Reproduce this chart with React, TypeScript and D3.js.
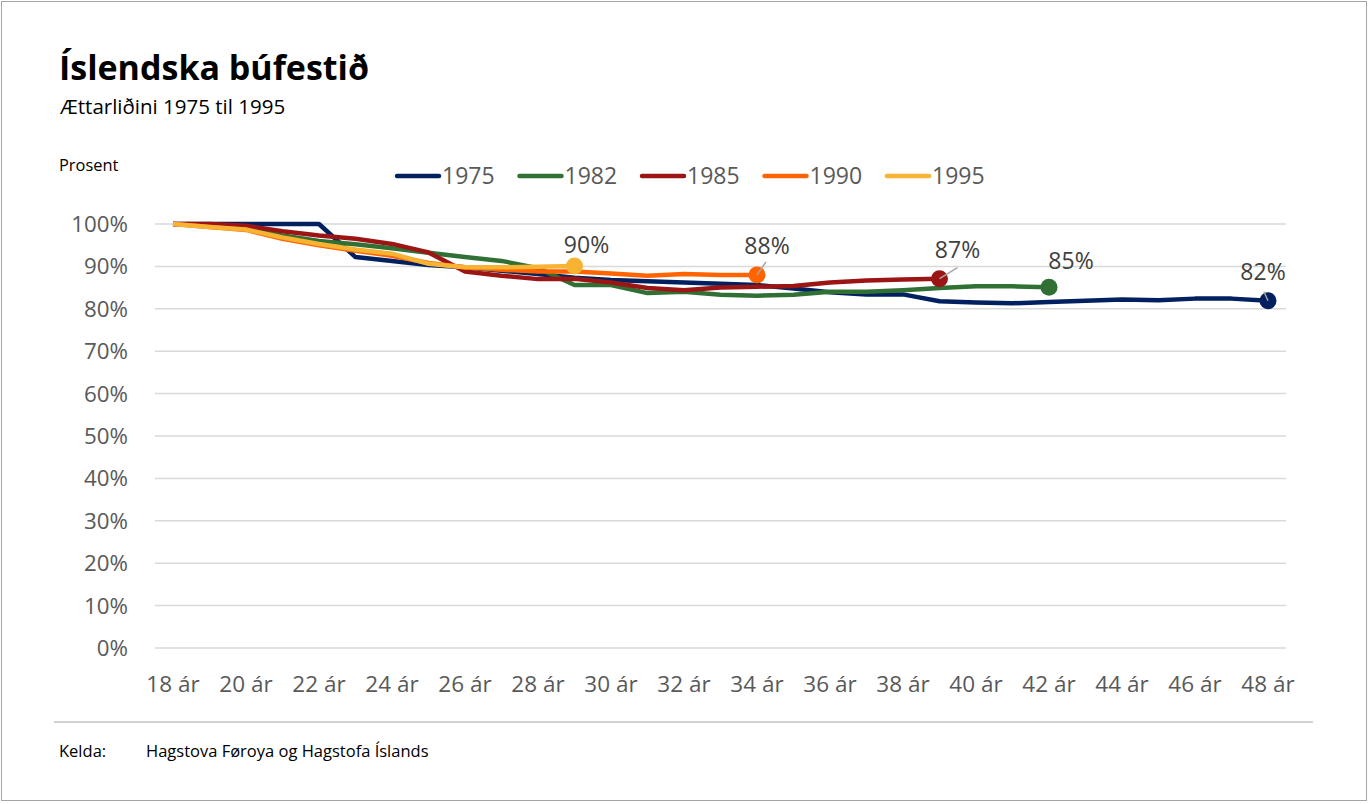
import { useEffect, useRef } from "react";
import * as d3 from "d3";

const ages = d3.range(18, 49);
const xTickAges = d3.range(18, 49, 2);
const yTicks = [0, 10, 20, 30, 40, 50, 60, 70, 80, 90, 100];

const cohort1975 = [100, 100, 100, 100, 100, 92.2, 91.3, 90.3, 89.8, 89.0, 88.2, 87.3, 86.8, 86.5, 86.2, 85.9, 85.6, 84.8, 83.9, 83.4, 83.4, 81.8, 81.5, 81.3, 81.6, 81.9, 82.2, 82.0, 82.4, 82.4, 81.9];
const cohort1982 = [100, 99.5, 98.8, 97.3, 96.0, 95.2, 94.3, 93.2, 92.2, 91.3, 89.6, 85.6, 85.6, 83.7, 84.0, 83.3, 83.1, 83.3, 84.0, 84.0, 84.4, 84.9, 85.3, 85.3, 85.1];
const cohort1985 = [100, 100, 99.6, 98.3, 97.3, 96.5, 95.3, 93.3, 88.8, 87.8, 87.0, 87.1, 86.2, 84.9, 84.4, 85.0, 85.2, 85.4, 86.2, 86.7, 86.9, 87.1];
const cohort1990 = [100, 99.3, 98.6, 96.5, 95.0, 93.7, 92.5, 90.8, 89.8, 89.2, 88.8, 88.8, 88.3, 87.8, 88.2, 88.0, 88.0];
const cohort1995 = [100, 99.3, 98.7, 96.8, 95.3, 94.0, 93.0, 90.6, 89.8, 89.8, 89.9, 90.1];

const endLabels = ["82%", "85%", "87%", "88%", "90%"];

interface ISeries {
  name: string;
  color: string;
  values: number[];
  label: string;
  // label offset from end marker, and leader line end (null = no leader)
  dx: number;
  dy: number;
  leader: [number, number] | null;
}

const series: ISeries[] = [
  { name: "1975", color: "#002060", values: cohort1975, label: endLabels[0], dx: -5, dy: -21, leader: [-4, -9] },
  { name: "1982", color: "#317035", values: cohort1982, label: endLabels[1], dx: 22, dy: -18, leader: null },
  { name: "1985", color: "#9c1515", values: cohort1985, label: endLabels[2], dx: 18, dy: -21, leader: [18, -11] },
  { name: "1990", color: "#ff6400", values: cohort1990, label: endLabels[3], dx: 10, dy: -21, leader: [9, -13] },
  { name: "1995", color: "#f8b333", values: cohort1995, label: endLabels[4], dx: 12, dy: -13, leader: null },
];

const font = "'Open Sans', 'Noto Sans', sans-serif";

function App() {
  const ref = useRef<SVGSVGElement>(null);

  useEffect(() => {
    const W = 1370;
    const H = 804;
    const svg = d3.select(ref.current);
    svg.selectAll("*").remove();
    svg.attr("width", W).attr("height", H).style("font-family", font);

    svg
      .append("rect")
      .attr("x", 1.5)
      .attr("y", 1.5)
      .attr("width", W - 5)
      .attr("height", H - 5)
      .attr("fill", "#fff")
      .attr("stroke", "#a6a6a6");

    svg
      .append("text")
      .attr("x", 59)
      .attr("y", 80)
      .attr("font-size", 34)
      .attr("font-weight", 700)
      .attr("fill", "#000")
      .text("Íslendska búfestið");
    svg
      .append("text")
      .attr("x", 60)
      .attr("y", 114)
      .attr("font-size", 20.5)
      .attr("fill", "#000")
      .text("Ættarliðini 1975 til 1995");
    svg
      .append("text")
      .attr("x", 59)
      .attr("y", 171)
      .attr("font-size", 16.4)
      .attr("fill", "#000")
      .text("Prosent");

    const xScale = d3.scaleLinear().domain([18, 48]).range([173, 1268]);
    const yScale = d3.scaleLinear().domain([0, 100]).range([648, 224]);

    // gridlines
    svg
      .append("g")
      .selectAll("line")
      .data(yTicks)
      .join("line")
      .attr("x1", 155)
      .attr("x2", 1286)
      .attr("y1", (d) => yScale(d))
      .attr("y2", (d) => yScale(d))
      .attr("stroke", "#d9d9d9")
      .attr("stroke-width", 1.5);

    svg
      .append("g")
      .selectAll("text")
      .data(yTicks)
      .join("text")
      .attr("x", 128)
      .attr("y", (d) => yScale(d) + 8)
      .attr("text-anchor", "end")
      .attr("font-size", 22.3)
      .attr("fill", "#595959")
      .text((d) => `${d}%`);

    svg
      .append("g")
      .selectAll("text")
      .data(xTickAges)
      .join("text")
      .attr("x", (d) => xScale(d))
      .attr("y", 692)
      .attr("text-anchor", "middle")
      .attr("font-size", 22.5)
      .attr("fill", "#595959")
      .text((d) => `${d} ár`);

    const line = d3
      .line<number>()
      .x((_, i) => xScale(ages[i]))
      .y((d) => yScale(d));

    series.forEach((s) => {
      svg
        .append("path")
        .datum(s.values)
        .attr("fill", "none")
        .attr("stroke", s.color)
        .attr("stroke-width", 4.5)
        .attr("stroke-linejoin", "round")
        .attr("d", line);
    });

    series.forEach((s) => {
      const last = s.values.length - 1;
      const cx = xScale(ages[last]);
      const cy = yScale(s.values[last]);
      svg
        .append("circle")
        .attr("cx", cx)
        .attr("cy", cy)
        .attr("r", 8.5)
        .attr("fill", s.color);
      if (s.leader) {
        svg
          .append("line")
          .attr("x1", cx)
          .attr("y1", cy)
          .attr("x2", cx + s.leader[0])
          .attr("y2", cy + s.leader[1])
          .attr("stroke", "#a6a6a6")
          .attr("stroke-width", 1.5);
      }
      svg
        .append("text")
        .attr("x", cx + s.dx)
        .attr("y", cy + s.dy)
        .attr("text-anchor", "middle")
        .attr("font-size", 23)
        .attr("fill", "#404040")
        .text(s.label);
    });

    // legend
    const legend = svg.append("g");
    series.forEach((s, i) => {
      const x0 = 396 + i * 122.5;
      legend
        .append("line")
        .attr("x1", x0 + 1)
        .attr("x2", x0 + 43)
        .attr("y1", 176)
        .attr("y2", 176)
        .attr("stroke", s.color)
        .attr("stroke-width", 4.5)
        .attr("stroke-linecap", "round");
      legend
        .append("text")
        .attr("x", x0 + 46)
        .attr("y", 184)
        .attr("font-size", 23)
        .attr("fill", "#595959")
        .text(s.name);
    });

    // footer
    svg
      .append("line")
      .attr("x1", 54)
      .attr("x2", 1313)
      .attr("y1", 722)
      .attr("y2", 722)
      .attr("stroke", "#a6a6a6")
      .attr("stroke-width", 1);
    svg
      .append("text")
      .attr("x", 59)
      .attr("y", 757)
      .attr("font-size", 16.5)
      .attr("fill", "#000")
      .text("Kelda:");
    svg
      .append("text")
      .attr("x", 146)
      .attr("y", 757)
      .attr("font-size", 16.5)
      .attr("fill", "#000")
      .text("Hagstova Føroya og Hagstofa Íslands");
  }, []);

  return (
    <div style={{ position: "absolute", left: 0, top: 0 }}>
      <svg ref={ref}></svg>
    </div>
  );
}

export default App;
